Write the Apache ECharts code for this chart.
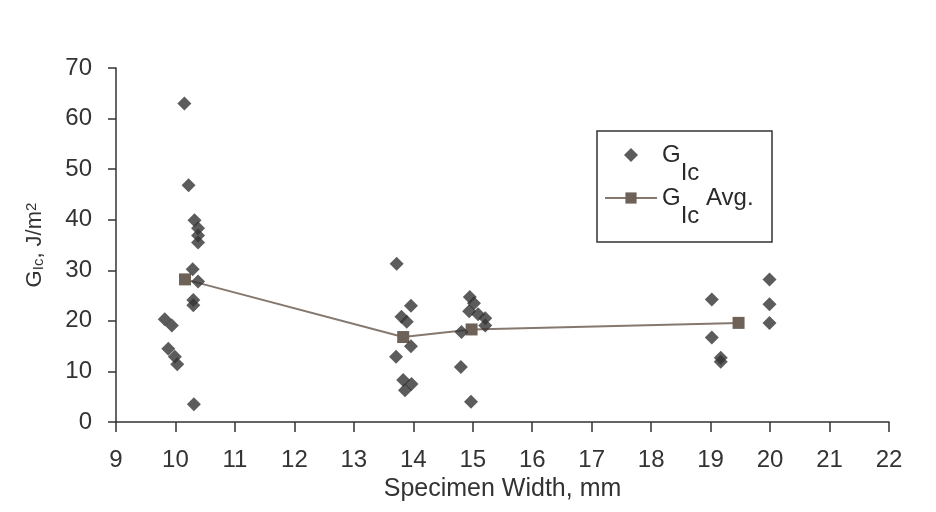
<!DOCTYPE html>
<html>
<head>
<meta charset="utf-8">
<script src="https://cdn.jsdelivr.net/npm/echarts@6/dist/echarts.min.js"></script>
<style>
html,body{margin:0;padding:0;background:#fff;}
#chart{width:936px;height:512px;}
</style>
</head>
<body>
<div id="chart"></div>
<script>
// Individual specimen results: width (mm) and G_Ic (J/m^2)
const gicWidth = [10.15,10.22,10.32,10.38,10.38,10.38,10.29,10.38,10.30,10.30,9.82,9.94,9.88,9.99,10.03,10.31,
  13.72,13.96,13.80,13.89,13.96,13.71,13.83,13.97,13.86,
  14.95,15.02,14.94,15.09,15.21,15.21,14.81,14.80,14.97,
  19.02,19.02,19.17,19.17,19.99,19.99,19.99];
const gicValue = [63.0,46.8,39.9,38.3,36.9,35.5,30.2,27.8,24.1,23.1,20.3,19.1,14.5,12.9,11.4,3.5,
  31.3,23.0,20.8,19.8,15.0,12.9,8.3,7.5,6.3,
  24.7,23.5,21.9,21.3,20.5,19.1,17.8,10.9,4.0,
  24.2,16.7,12.7,11.9,28.2,23.3,19.6];
// Averages
const avgWidth = [10.16,13.83,14.98,19.47];
const avgValue = [28.2,16.8,18.3,19.6];

const seriesNames = ['GIc','GIc Avg.'];
const xTitle = 'Specimen Width, mm';

const FONT = "'Liberation Sans', Arial, sans-serif";
const scatterData = gicWidth.map((w,i)=>[w,gicValue[i]]);
const avgData = avgWidth.map((w,i)=>[w,avgValue[i]]);

function legendRich(leftPad){
  return {
    g:{fontFamily:FONT,fontSize:24,color:'#2a2a2a',padding:[18,0,0,leftPad],verticalAlign:'top'},
    s:{fontFamily:FONT,fontSize:24,color:'#2a2a2a',padding:[36,0,0,0],verticalAlign:'top'},
    a:{fontFamily:FONT,fontSize:24,color:'#2a2a2a',padding:[18,0,0,0],verticalAlign:'top'}
  };
}
function legendFmt(name){
  return name === 'GIc' ? '{g|G}{s|Ic}' : '{g|G}{s|Ic}{a| Avg.}';
}

const chart = echarts.init(document.getElementById('chart'));
chart.setOption({
  animation:false,
  backgroundColor:'#ffffff',
  grid:{left:116,right:47,top:68,bottom:90},
  graphic:[{type:'rect',shape:{x:597,y:131,width:175,height:111},
    style:{fill:'#fff',stroke:'#333',lineWidth:1.5},z:-1}],
  legend:[
    {data:[seriesNames[0]],orient:'vertical',left:624,top:143,padding:0,itemWidth:14,itemHeight:14,
     selectedMode:false,formatter:legendFmt,textStyle:{rich:legendRich(19)}},
    {data:[seriesNames[1]],orient:'vertical',left:604,top:186,padding:0,itemWidth:52,itemHeight:14,
     selectedMode:false,formatter:legendFmt,textStyle:{rich:legendRich(0)}}
  ],
  xAxis:{type:'value',min:9,max:22,interval:1,
    name:xTitle,nameLocation:'middle',nameGap:54,
    nameTextStyle:{fontFamily:FONT,fontSize:25,color:'#333'},
    axisLine:{show:true,onZero:false,lineStyle:{color:'#333',width:1.5}},
    axisTick:{show:true,length:10,lineStyle:{color:'#333',width:1.5}},
    axisLabel:{margin:26,fontFamily:FONT,fontSize:24,color:'#333'},
    splitLine:{show:false}},
  yAxis:{type:'value',min:0,max:70,interval:10,
    name:'{g|G}{s|Ic}{n|, J/m}{p|2}',nameLocation:'middle',nameGap:70,
    nameTextStyle:{rich:{
      g:{fontFamily:FONT,fontSize:22,color:'#333'},
      s:{fontFamily:FONT,fontSize:15,color:'#333',verticalAlign:'bottom'},
      n:{fontFamily:FONT,fontSize:22,color:'#333'},
      p:{fontFamily:FONT,fontSize:15,color:'#333',verticalAlign:'top'}}},
    axisLine:{show:true,lineStyle:{color:'#333',width:1.5}},
    axisTick:{show:true,length:8,lineStyle:{color:'#333',width:1.5}},
    axisLabel:{margin:24,fontFamily:FONT,fontSize:24,color:'#333'},
    splitLine:{show:false}},
  series:[
    {name:seriesNames[1],type:'line',data:avgData,symbol:'rect',symbolSize:12,
     lineStyle:{color:'#85786f',width:2},itemStyle:{color:'#6e6258'},z:2},
    {name:seriesNames[0],type:'scatter',data:scatterData,symbol:'diamond',symbolSize:14,
     itemStyle:{color:'#333333'},z:3}
  ]
});
</script>
</body>
</html>
